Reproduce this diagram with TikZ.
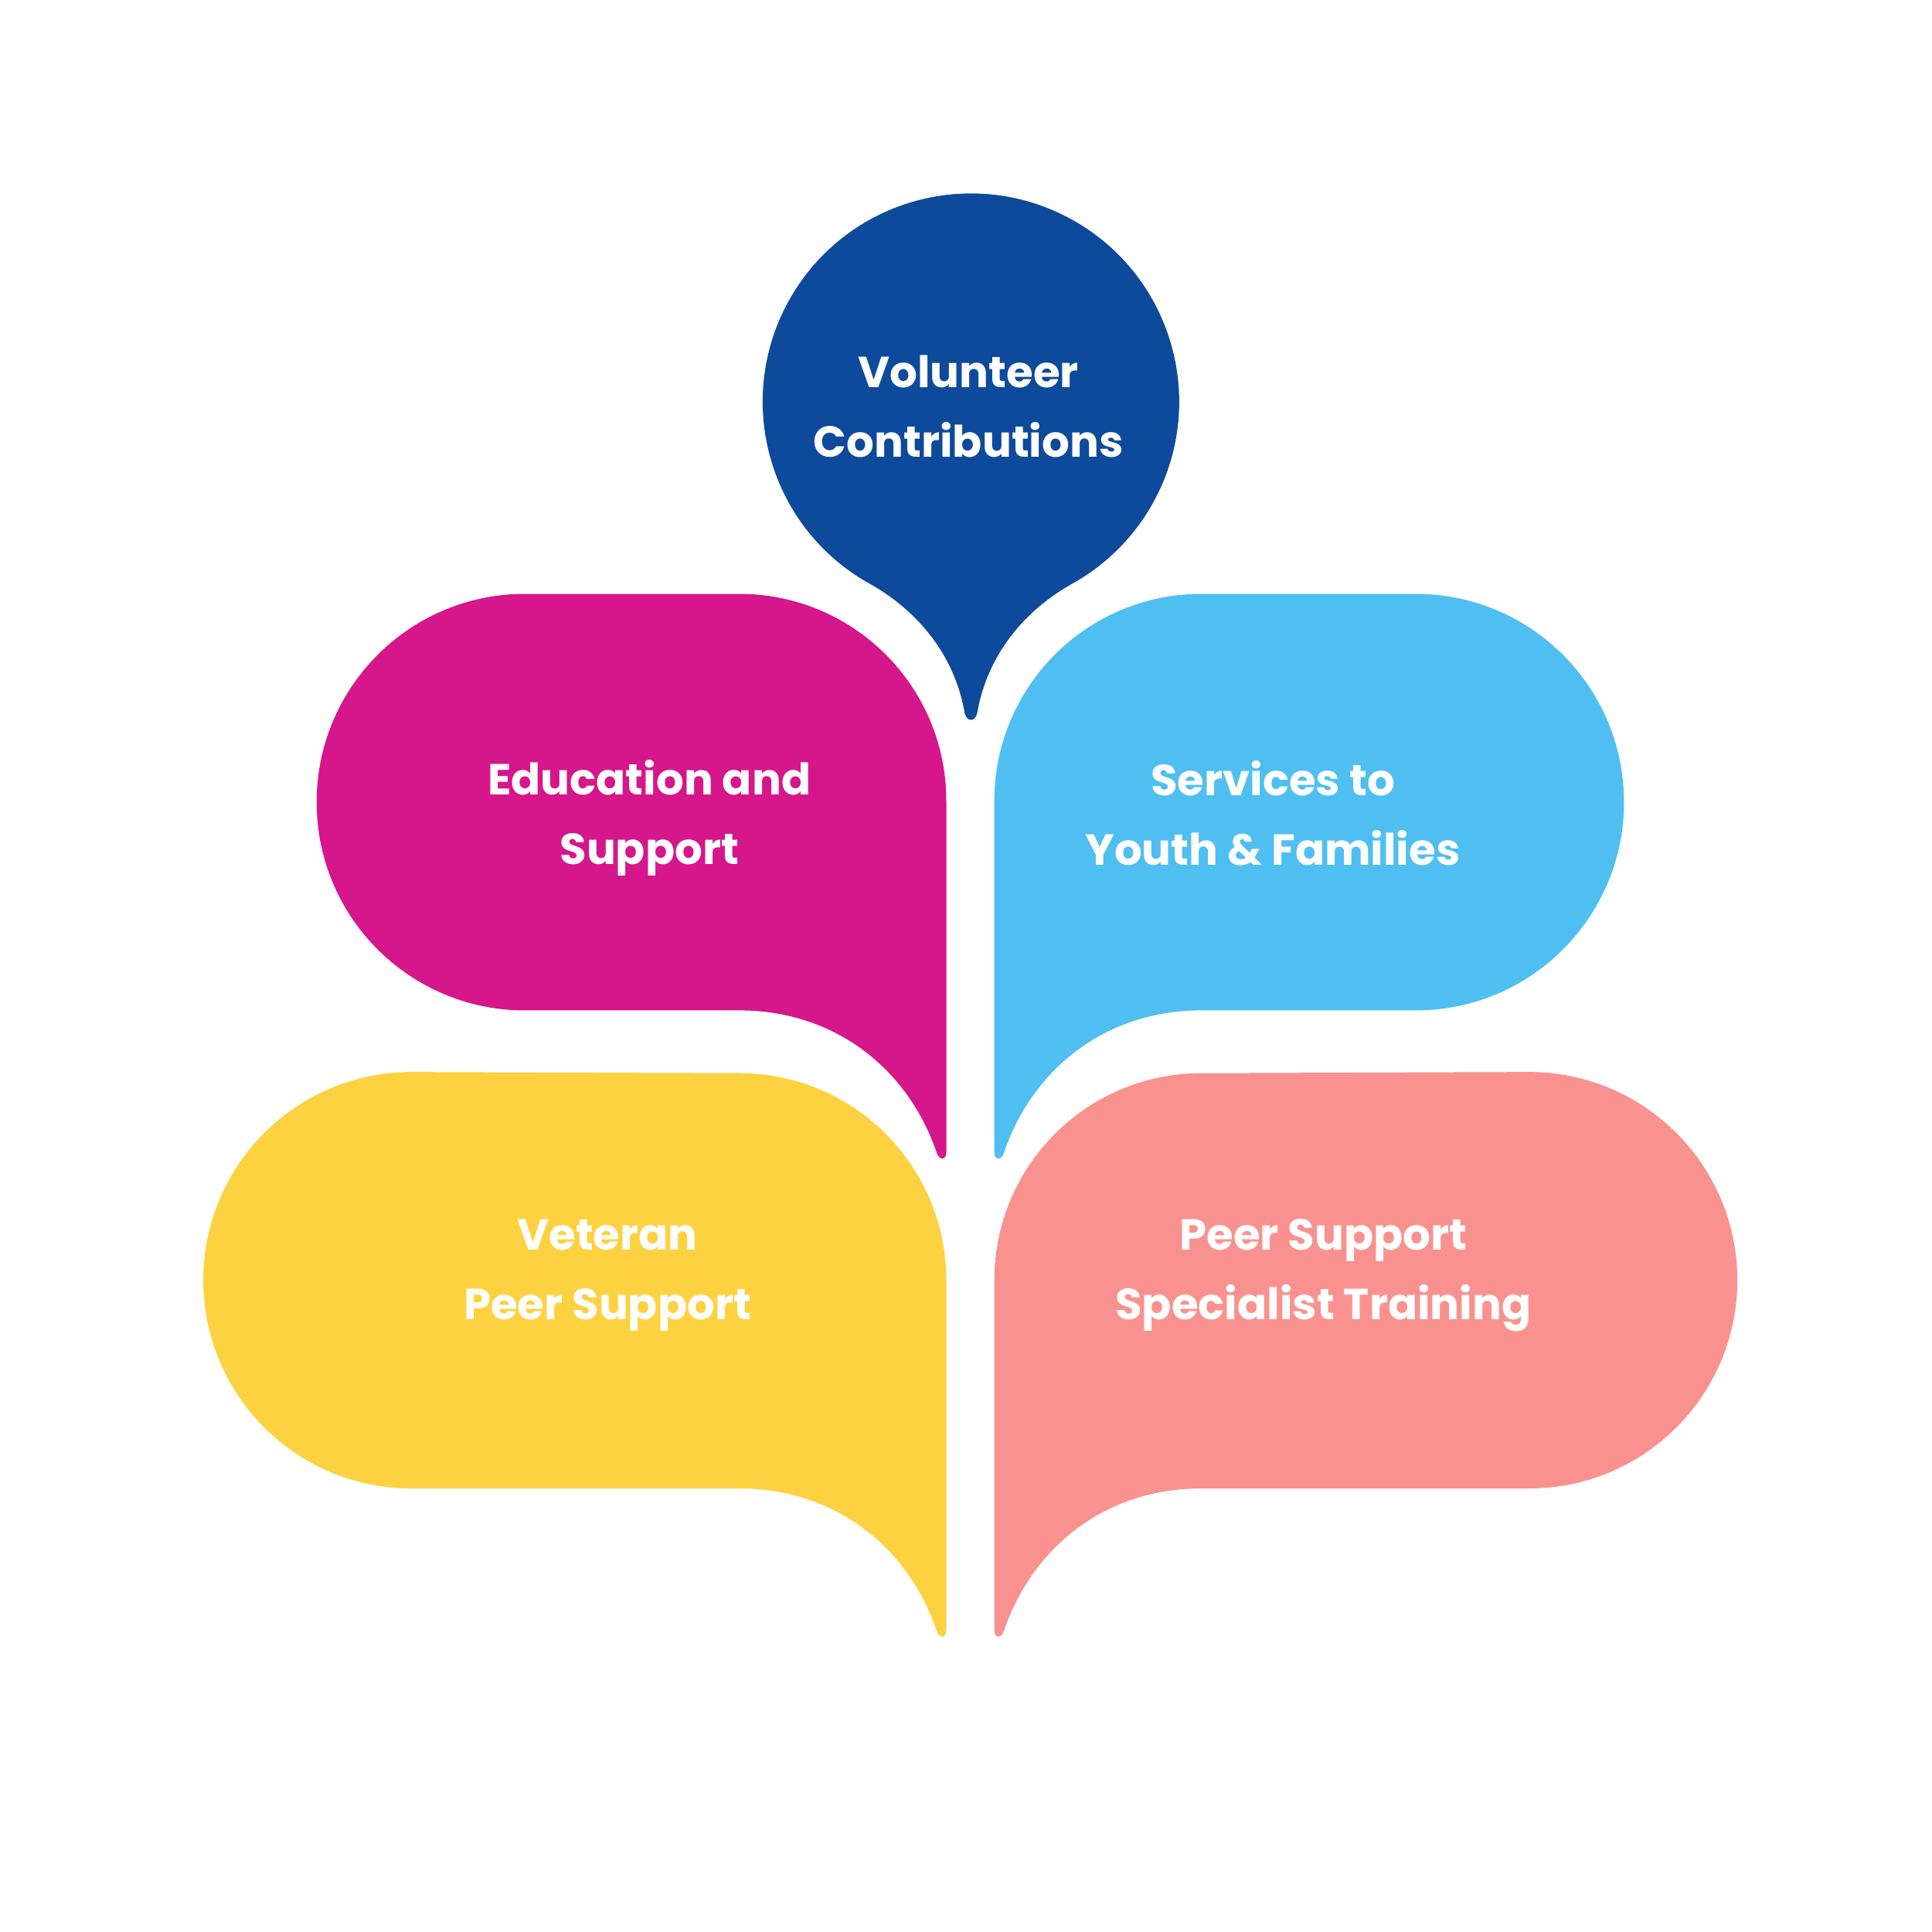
\documentclass[tikz,border=0pt]{standalone}
\usepackage{fontspec}
\setmainfont{Poppins}
\usepackage{tikz}

\definecolor{volblue}{HTML}{0E4A9B}
\definecolor{edumag}{HTML}{D6168B}
\definecolor{youthcyan}{HTML}{4FBFF2}
\definecolor{vetyellow}{HTML}{FED140}
\definecolor{peerpink}{HTML}{F9928E}

\tikzset{
  label/.style={text=white, align=center, font=\fontsize{16}{25.5}\selectfont\bfseries},
}

\begin{document}
\begin{tikzpicture}[x=0.015944cm, y=-0.015944cm]
  \useasboundingbox[fill=white] (0,0) rectangle (1568,1568);

  % top bubble
  \fill[volblue] (703.5,472.4) arc[start angle=120, end angle=420, radius=169]
    .. controls (831,495) and (801,532) .. (793,579)
    .. controls (791,586) and (785,586) .. (783,579)
    .. controls (775,532) and (745,495) .. (703.5,472.4) -- cycle;

  % left bubbles
  \fill[edumag] (768,650) arc[start angle=0, end angle=-90, radius=168]
    -- (426,482) arc[start angle=270, end angle=90, radius=169]
    -- (600,820) .. controls (680,820) and (738,870) .. (760,935)
    .. controls (762,942) and (768,942) .. (768,935) -- cycle;
  \fill[vetyellow] (768,1039) arc[start angle=0, end angle=-90, radius=168]
    -- (334,870) arc[start angle=270, end angle=90, radius=169]
    -- (600,1208) .. controls (680,1208) and (738,1258) .. (760,1323)
    .. controls (762,1330) and (768,1330) .. (768,1323) -- cycle;

  % right bubbles
  \fill[youthcyan] (807,650) arc[start angle=180, end angle=270, radius=168]
    -- (1149,482) arc[start angle=270, end angle=450, radius=169]
    -- (975,820) .. controls (895,820) and (837,870) .. (815,935)
    .. controls (813,942) and (807,942) .. (807,935) -- cycle;
  \fill[peerpink] (807,1039) arc[start angle=180, end angle=270, radius=168]
    -- (1241,870) arc[start angle=270, end angle=450, radius=169]
    -- (975,1208) .. controls (895,1208) and (837,1258) .. (815,1323)
    .. controls (813,1330) and (807,1330) .. (807,1323) -- cycle;

  \node (vol) at (786,330) [label] {Volunteer\\Contributions};
  \node (edu) at (527,664) [label] {Education and\\Support};
  \node (youth) at (1033,660) [label] {Services to\\Youth \& Families};
  \node (vet) at (493,1035) [label] {Veteran\\Peer Support};
  \node (peer) at (1074,1035) [label] {Peer Support\\Specialist Training};
\end{tikzpicture}
\end{document}
